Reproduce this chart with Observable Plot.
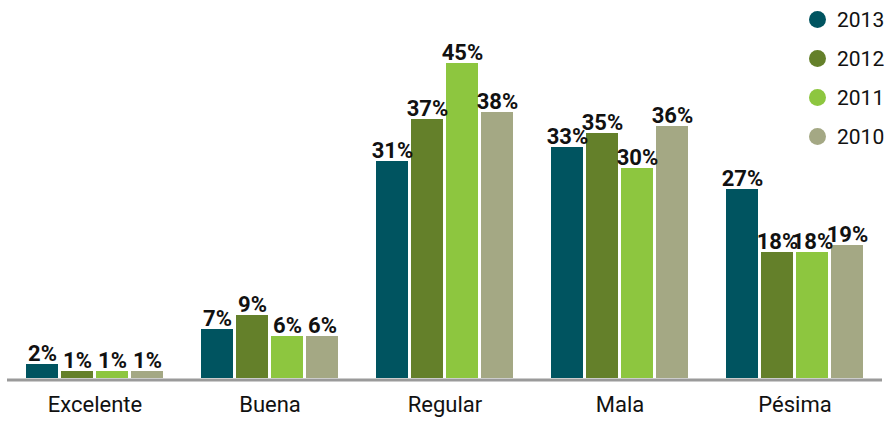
<!DOCTYPE html>
<html>
<head>
<meta charset="utf-8">
<script src="https://cdn.jsdelivr.net/npm/d3@7"></script>
<script src="https://cdn.jsdelivr.net/npm/@observablehq/plot@0.6"></script>
<style>
  html, body { margin: 0; padding: 0; background: #fff; }
  #wrap { position: relative; width: 890px; height: 421px; }
  #legend { position: absolute; left: 809px; top: 0px; font-family: Roboto, sans-serif; font-size: 21px; color: #111; }
  .item { display: flex; align-items: center; height: 39px; }
  .dot { width: 17px; height: 17px; border-radius: 50%; margin-right: 11px; }
</style>
</head>
<body>
<div id="wrap"><div id="legend"></div></div>
<script>
const categories = ["Excelente", "Buena", "Regular", "Mala", "Pésima"];
const years = ["2013", "2012", "2011", "2010"];
const colors = ["#005460", "#64802a", "#8dc63f", "#a4a884"];
const v2013 = [2, 7, 31, 33, 27];
const v2012 = [1, 9, 37, 35, 18];
const v2011 = [1, 6, 45, 30, 18];
const v2010 = [1, 6, 38, 36, 19];
const series = [v2013, v2012, v2011, v2010];

const data = categories.flatMap((c, i) => years.map((y, j) => ({category: c, year: y, value: series[j][i]})));

const chart = Plot.plot({
  width: 890,
  height: 421,
  marginTop: 28,
  marginBottom: 43,
  marginLeft: 6,
  marginRight: 7,
  style: {fontFamily: "Roboto, sans-serif", fontSize: "22px", color: "#111", background: "#fff"},
  fx: {domain: categories, padding: 0, label: null, axis: "bottom", tickSize: 0, tickPadding: 18},
  x: {domain: years, axis: null, paddingInner: 0.09, paddingOuter: 0.545},
  y: {domain: [0, 50], axis: null},
  color: {domain: years, range: colors},
  marks: [
    Plot.barY(data, {fx: "category", x: "year", y: "value", fill: "year"}),
    Plot.ruleY([0], {stroke: "#9a9a9a", strokeWidth: 3, dy: 1.5}),
    Plot.text(data, {fx: "category", x: "year", y: "value", text: d => d.value + "%", lineAnchor: "bottom", dy: -4, fontWeight: "bold", fontSize: 22, fill: "#111", letterSpacing: "-1px"})
  ]
});
document.getElementById("wrap").prepend(chart);

const legend = document.getElementById("legend");
years.forEach((y, j) => {
  const item = document.createElement("div");
  item.className = "item";
  item.innerHTML = `<span class="dot" style="background:${colors[j]}"></span><span>${y}</span>`;
  legend.appendChild(item);
});
</script>
</body>
</html>
